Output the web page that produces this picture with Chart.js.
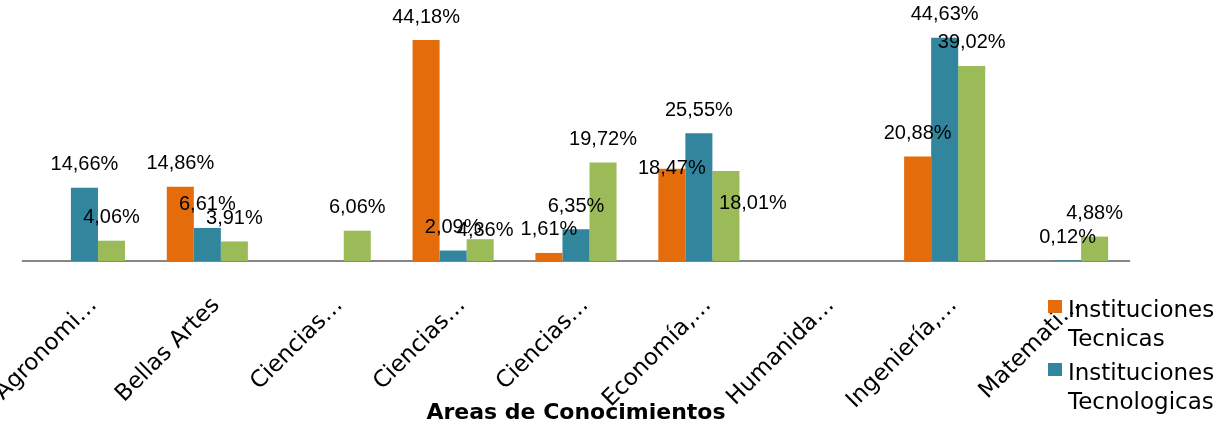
<!DOCTYPE html>
<html lang="es">
<head>
<meta charset="utf-8">
<title>Areas de Conocimientos</title>
<script src="https://cdn.jsdelivr.net/npm/chart.js@4/dist/chart.umd.min.js"></script>
<style>
  html, body { margin: 0; padding: 0; background: #fff; overflow: hidden; }
  #wrap { position: relative; width: 1225px; height: 423px; overflow: hidden; }
  #leyenda {
    position: absolute; left: 1048px; top: 295px;
    font-family: "DejaVu Sans", sans-serif; font-size: 23px; line-height: 29px; color: #000;
  }
  .item { position: relative; padding-left: 20px; margin-bottom: 5px; width: 160px; }
  .caja { position: absolute; left: 0; top: 5px; width: 14px; height: 13px; }
</style>
</head>
<body>
<div id="wrap">
  <canvas id="areasCanvas"></canvas>
  <div id="leyenda"></div>
</div>
<script>
const categorias = [
  "Agronomi…",
  "Bellas Artes",
  "Ciencias…",
  "Ciencias…",
  "Ciencias…",
  "Economía,…",
  "Humanida…",
  "Ingeniería,…",
  "Matemati…",
];

const nombresSeries = ["Instituciones Tecnicas", "Instituciones Tecnologicas", "Universidades"];
const coloresSeries = ["#E46C0A", "#31859C", "#9BBB59"];

const tecnicas = [null, 14.86, null, 44.18, 1.61, 18.47, null, 20.88, null];
const tecnologicas = [14.66, 6.61, null, 2.09, 6.35, 25.55, null, 44.63, 0.12];
const universidades = [4.06, 3.91, 6.06, 4.36, 19.72, 18.01, null, 39.02, 4.88];

// algunas etiquetas fueron movidas a mano en el original
const ajusteEtiquetas = {
  "0:5": { dx: 0, dy: 23 },
  "2:5": { dx: 27, dy: 56 },
  "2:3": { dx: 5, dy: 14 },
};

const formatoPorcentaje = (v) => v.toFixed(2).replace(".", ",") + "%";

const etiquetasBarras = {
  id: "etiquetasBarras",
  afterDatasetsDraw(chart) {
    const { ctx } = chart;
    ctx.save();
    ctx.font = '20px "Liberation Sans", Arial, sans-serif';
    ctx.fillStyle = "#000";
    ctx.textAlign = "center";
    ctx.textBaseline = "middle";
    chart.data.datasets.forEach((ds, i) => {
      const meta = chart.getDatasetMeta(i);
      meta.data.forEach((bar, j) => {
        const v = ds.data[j];
        if (v === null || v === undefined) return;
        const aj = ajusteEtiquetas[i + ":" + j] || { dx: 0, dy: 0 };
        ctx.fillText(formatoPorcentaje(v), bar.x + aj.dx, bar.y - 23 + aj.dy);
      });
    });
    ctx.restore();
  },
};

const series = [tecnicas, tecnologicas, universidades];

const areasChart = new Chart(document.getElementById("areasCanvas"), {
  type: "bar",
  data: {
    labels: categorias,
    datasets: series.map((datos, i) => ({
      label: nombresSeries[i],
      data: datos,
      backgroundColor: coloresSeries[i],
      borderWidth: 0,
      categoryPercentage: 0.66,
      barPercentage: 1,
    })),
  },
  options: {
    responsive: true,
    maintainAspectRatio: false,
    animation: false,
    layout: { padding: { left: 23, right: 96, top: 11, bottom: 0 } },
    plugins: {
      legend: { display: false },
      tooltip: { enabled: false },
    },
    scales: {
      x: {
        grid: { display: false },
        border: { display: true, color: "#868686", width: 2 },
        ticks: {
          color: "#000",
          font: { family: "DejaVu Sans", size: 23 },
          minRotation: 45,
          maxRotation: 45,
          autoSkip: false,
          padding: 23,
          labelOffset: 9,
        },
        title: {
          display: true,
          text: "Areas de Conocimientos",
          color: "#000",
          font: { family: "DejaVu Sans", size: 22, weight: "bold", lineHeight: 1 },
          padding: { top: 0, bottom: -1 },
        },
        afterFit: (scale) => {
          scale.height = 162;
          scale.paddingLeft = 0;
          scale.paddingRight = 0;
        },
      },
      y: {
        display: false,
        min: 0,
        max: 50,
      },
    },
  },
  plugins: [etiquetasBarras],
});

// leyenda a la derecha, recortada como en el original
const leyenda = document.getElementById("leyenda");
nombresSeries.forEach((nombre, i) => {
  const item = document.createElement("div");
  item.className = "item";
  const caja = document.createElement("span");
  caja.className = "caja";
  caja.style.background = coloresSeries[i];
  item.appendChild(caja);
  item.appendChild(document.createTextNode(nombre));
  leyenda.appendChild(item);
});
</script>
</body>
</html>
